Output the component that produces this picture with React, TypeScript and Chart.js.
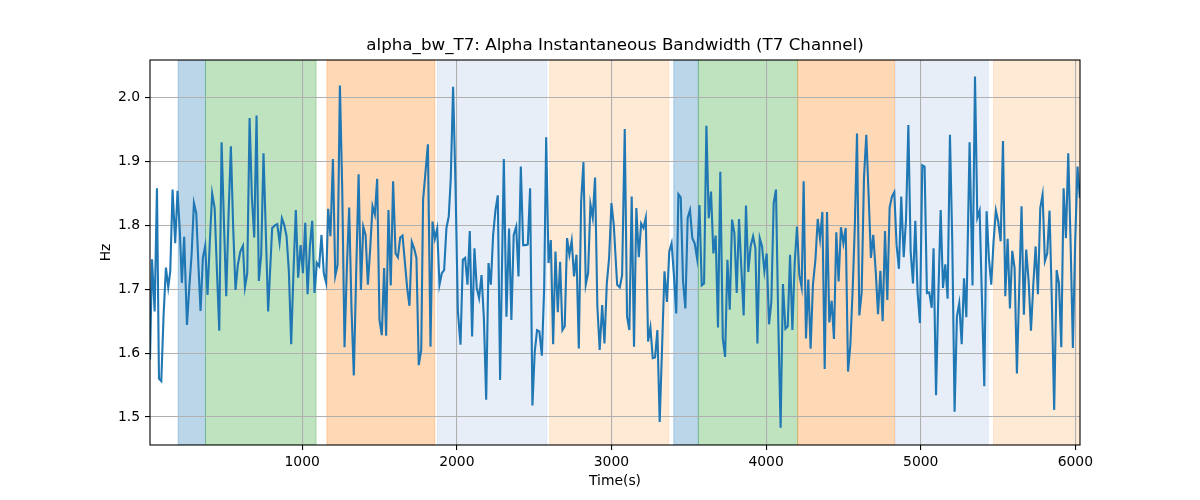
import { useEffect, useRef } from 'react';
import { Chart, registerables } from 'chart.js';

Chart.register(...registerables);

const titleText = 'alpha_bw_T7: Alpha Instantaneous Bandwidth (T7 Channel)';

const times = [
  16, 29, 46, 61, 74, 89, 104, 119, 134, 147, 162, 179, 194, 209, 222, 237, 255, 270, 285, 300,
  315, 330, 343, 358, 373, 388, 403, 418, 434, 449, 464, 479, 496, 509, 524, 539, 554, 569, 584, 600,
  617, 630, 645, 660, 675, 690, 705, 720, 735, 750, 780, 806, 824, 839, 854, 869, 884, 899, 914, 929,
  944, 959, 974, 990, 1005, 1020, 1035, 1050, 1065, 1080, 1095, 1110, 1125, 1140, 1155, 1168, 1183, 1199, 1214, 1229,
  1244, 1259, 1274, 1289, 1304, 1319, 1334, 1349, 1365, 1380, 1395, 1410, 1425, 1440, 1455, 1470, 1485, 1500, 1515, 1530,
  1543, 1558, 1573, 1588, 1604, 1619, 1634, 1649, 1664, 1679, 1694, 1709, 1724, 1739, 1754, 1770, 1782, 1797, 1813, 1830,
  1843, 1858, 1873, 1888, 1903, 1918, 1933, 1948, 1961, 1976, 1991, 2007, 2024, 2039, 2054, 2069, 2084, 2099, 2114, 2129,
  2144, 2160, 2175, 2190, 2205, 2220, 2235, 2250, 2265, 2280, 2304, 2321, 2338, 2353, 2368, 2384, 2399, 2414, 2429, 2444,
  2459, 2474, 2489, 2504, 2519, 2534, 2550, 2565, 2578, 2593, 2608, 2623, 2638, 2653, 2668, 2683, 2698, 2713, 2728, 2743,
  2758, 2774, 2789, 2804, 2819, 2834, 2849, 2864, 2879, 2894, 2909, 2924, 2940, 2955, 2970, 2985, 3000, 3015, 3037, 3054,
  3069, 3086, 3101, 3116, 3131, 3146, 3161, 3177, 3192, 3207, 3222, 3237, 3252, 3267, 3282, 3297, 3312, 3328, 3343, 3359,
  3374, 3389, 3404, 3419, 3433, 3448, 3463, 3478, 3493, 3508, 3523, 3538, 3554, 3569, 3584, 3599, 3614, 3629, 3644, 3659,
  3674, 3689, 3704, 3720, 3735, 3750, 3765, 3780, 3795, 3810, 3825, 3840, 3855, 3870, 3885, 3900, 3916, 3931, 3944, 3959,
  3974, 3989, 4004, 4019, 4034, 4049, 4064, 4079, 4094, 4109, 4125, 4140, 4155, 4170, 4185, 4200, 4215, 4230, 4243, 4258,
  4273, 4288, 4303, 4319, 4334, 4349, 4364, 4379, 4394, 4409, 4424, 4439, 4454, 4469, 4484, 4500, 4515, 4530, 4545, 4560,
  4574, 4588, 4603, 4618, 4633, 4648, 4663, 4678, 4693, 4709, 4724, 4739, 4754, 4769, 4784, 4799, 4814, 4829, 4844, 4859,
  4874, 4890, 4905, 4920, 4935, 4950, 4965, 4980, 4995, 5010, 5025, 5040, 5055, 5071, 5083, 5099, 5114, 5129, 5144, 5159,
  5174, 5189, 5204, 5219, 5234, 5249, 5265, 5280, 5295, 5316, 5335, 5351, 5366, 5381, 5396, 5411, 5426, 5441, 5456, 5471,
  5486, 5501, 5517, 5532, 5547, 5562, 5577, 5592, 5607, 5622, 5637, 5652, 5667, 5682, 5698, 5713, 5728, 5743, 5758, 5773,
  5788, 5803, 5818, 5833, 5848, 5863, 5879, 5894, 5909, 5924, 5939, 5954, 5969, 5984, 5999, 6014, 6029,
];

const bandwidth = [
  1.59, 1.747, 1.665, 1.858, 1.56, 1.556, 1.66, 1.734, 1.703, 1.728, 1.856, 1.772, 1.854, 1.79, 1.71, 1.782, 1.644, 1.702, 1.754, 1.835,
  1.819, 1.733, 1.666, 1.749, 1.768, 1.691, 1.775, 1.85, 1.827, 1.728, 1.635, 1.93, 1.79, 1.689, 1.816, 1.924, 1.796, 1.699, 1.738, 1.759,
  1.768, 1.703, 1.725, 1.968, 1.843, 1.781, 1.972, 1.713, 1.754, 1.913, 1.665, 1.796, 1.8, 1.802, 1.773, 1.811, 1.801, 1.783, 1.728, 1.614,
  1.728, 1.824, 1.718, 1.769, 1.725, 1.804, 1.692, 1.767, 1.807, 1.694, 1.741, 1.736, 1.785, 1.725, 1.71, 1.826, 1.783, 1.904, 1.721, 1.738,
  2.019, 1.858, 1.609, 1.733, 1.828, 1.67, 1.565, 1.722, 1.88, 1.699, 1.798, 1.785, 1.707, 1.764, 1.83, 1.817, 1.873, 1.652, 1.628, 1.733,
  1.627, 1.824, 1.706, 1.869, 1.756, 1.75, 1.781, 1.784, 1.743, 1.702, 1.674, 1.774, 1.764, 1.749, 1.581, 1.605, 1.84, 1.882, 1.927, 1.61,
  1.806, 1.779, 1.795, 1.707, 1.725, 1.73, 1.796, 1.814, 1.874, 2.017, 1.869, 1.665, 1.613, 1.746, 1.749, 1.707, 1.791, 1.626, 1.764, 1.702,
  1.686, 1.722, 1.655, 1.527, 1.741, 1.707, 1.785, 1.824, 1.847, 1.558, 1.904, 1.657, 1.795, 1.652, 1.785, 1.798, 1.72, 1.892, 1.769, 1.769,
  1.77, 1.858, 1.518, 1.602, 1.636, 1.634, 1.596, 1.702, 1.938, 1.741, 1.777, 1.614, 1.759, 1.664, 1.743, 1.636, 1.642, 1.78, 1.754, 1.776,
  1.72, 1.754, 1.607, 1.837, 1.899, 1.707, 1.725, 1.833, 1.812, 1.875, 1.673, 1.605, 1.675, 1.615, 1.709, 1.749, 1.835, 1.801, 1.707, 1.703,
  1.722, 1.951, 1.657, 1.636, 1.845, 1.61, 1.827, 1.75, 1.803, 1.796, 1.812, 1.618, 1.64, 1.592, 1.593, 1.636, 1.492, 1.613, 1.728, 1.68,
  1.759, 1.772, 1.722, 1.662, 1.849, 1.844, 1.712, 1.67, 1.812, 1.824, 1.78, 1.772, 1.748, 1.832, 1.706, 1.709, 1.956, 1.811, 1.853, 1.756,
  1.784, 1.64, 1.884, 1.623, 1.594, 1.746, 1.668, 1.809, 1.788, 1.694, 1.81, 1.733, 1.659, 1.831, 1.727, 1.767, 1.783, 1.764, 1.615, 1.78,
  1.767, 1.728, 1.756, 1.645, 1.68, 1.835, 1.856, 1.647, 1.483, 1.708, 1.638, 1.642, 1.754, 1.636, 1.741, 1.798, 1.722, 1.703, 1.869, 1.623,
  1.715, 1.607, 1.707, 1.746, 1.81, 1.779, 1.821, 1.575, 1.821, 1.648, 1.682, 1.622, 1.789, 1.712, 1.797, 1.772, 1.796, 1.571, 1.613, 1.7,
  1.8, 1.944, 1.659, 1.694, 1.874, 1.942, 1.848, 1.749, 1.785, 1.728, 1.661, 1.729, 1.65, 1.791, 1.683, 1.828, 1.845, 1.852, 1.769, 1.732,
  1.845, 1.75, 1.809, 1.957, 1.759, 1.709, 1.807, 1.694, 1.647, 1.894, 1.892, 1.694, 1.695, 1.671, 1.764, 1.534, 1.691, 1.824, 1.702, 1.739,
  1.685, 1.942, 1.775, 1.508, 1.657, 1.678, 1.614, 1.717, 1.656, 1.93, 1.706, 2.033, 1.812, 1.823, 1.683, 1.548, 1.822, 1.749, 1.707, 1.775,
  1.823, 1.806, 1.775, 1.932, 1.689, 1.779, 1.67, 1.76, 1.733, 1.568, 1.702, 1.83, 1.66, 1.762, 1.712, 1.635, 1.707, 1.767, 1.692, 1.827,
  1.848, 1.744, 1.756, 1.823, 1.681, 1.511, 1.73, 1.709, 1.609, 1.858, 1.78, 1.913, 1.775, 1.608, 1.775, 1.892, 1.843,
];

// shaded segments (start, end in seconds) and their fill colours
const bandStarts = [198, 375, 1160, 1875, 2601, 3403, 3562, 4204, 4836, 5471];
const bandEnds = [375, 1090, 1858, 2582, 3370, 3562, 4204, 4831, 5437, 6060];
const bandColors = [
  'rgba(31,119,180,0.3)',
  'rgba(44,160,44,0.3)',
  'rgba(255,127,14,0.3)',
  'rgba(174,199,232,0.3)',
  'rgba(255,187,120,0.3)',
  'rgba(31,119,180,0.3)',
  'rgba(44,160,44,0.3)',
  'rgba(255,127,14,0.3)',
  'rgba(174,199,232,0.3)',
  'rgba(255,187,120,0.3)',
];

const xTicks = [1000, 2000, 3000, 4000, 5000, 6000];
const yTicks = [1.5, 1.6, 1.7, 1.8, 1.9, 2.0];

const FONT = "'DejaVu Sans', sans-serif";

const bandPlugin = {
  id: 'bands',
  beforeDraw(chart: any) {
    const { ctx, chartArea, scales } = chart;
    const xs = scales.x;
    ctx.save();
    ctx.beginPath();
    ctx.rect(chartArea.left, chartArea.top, chartArea.right - chartArea.left, chartArea.bottom - chartArea.top);
    ctx.clip();
    bandStarts.forEach((start, i) => {
      const x0 = xs.getPixelForValue(start);
      const x1 = xs.getPixelForValue(bandEnds[i]);
      const h = chartArea.bottom - chartArea.top;
      ctx.fillStyle = bandColors[i];
      ctx.fillRect(x0, chartArea.top, x1 - x0, h);
      ctx.strokeStyle = bandColors[i];
      ctx.lineWidth = 1;
      ctx.strokeRect(x0, chartArea.top, x1 - x0, h);
    });
    ctx.restore();
  },
};

// axes frame on all four sides plus a title centred over the plot area
const framePlugin = {
  id: 'frame',
  afterDraw(chart: any) {
    const { ctx, chartArea } = chart;
    ctx.save();
    ctx.strokeStyle = '#000';
    ctx.lineWidth = 1.1;
    ctx.strokeRect(chartArea.left, chartArea.top, chartArea.right - chartArea.left, chartArea.bottom - chartArea.top);
    ctx.fillStyle = '#000';
    ctx.font = `16.7px ${FONT}`;
    ctx.textAlign = 'center';
    ctx.textBaseline = 'middle';
    ctx.fillText(titleText, (chartArea.left + chartArea.right) / 2, 46);
    ctx.restore();
  },
};

export default function App(): JSX.Element {
  const canvasRef = useRef<HTMLCanvasElement | null>(null);

  useEffect(() => {
    if (!canvasRef.current) return;
    const points = times.map((t, i) => ({ x: t, y: bandwidth[i] }));

    const chart = new Chart(canvasRef.current, {
      type: 'line',
      data: {
        datasets: [
          {
            data: points,
            borderColor: '#1f77b4',
            borderWidth: 2.1,
            pointRadius: 0,
            tension: 0,
            fill: false,
          },
        ],
      },
      options: {
        animation: false,
        responsive: true,
        maintainAspectRatio: false,
        layout: { padding: { left: 0, right: 120, top: 60, bottom: 0 } },
        plugins: {
          legend: { display: false },
          tooltip: { enabled: false },
          title: { display: false },
        },
        scales: {
          x: {
            type: 'linear',
            min: 16,
            max: 6030,
            afterBuildTicks: (scale: any) => {
              scale.ticks = xTicks.map((v) => ({ value: v }));
            },
            afterFit: (scale: any) => {
              scale.height = 55;
            },
            ticks: {
              color: '#000',
              font: { family: FONT, size: 13.9 },
              padding: 4,
              maxRotation: 0,
              callback: (v: any) => String(v),
            },
            grid: { color: '#b0b0b0', lineWidth: 1.1, tickLength: 5, tickColor: '#000', tickWidth: 1.1 },
            border: { display: false },
            title: {
              display: true,
              text: 'Time(s)',
              color: '#000',
              font: { family: FONT, size: 13.9 },
              padding: { top: 0, bottom: 10.7 },
            },
          },
          y: {
            type: 'linear',
            min: 1.456,
            max: 2.059,
            afterBuildTicks: (scale: any) => {
              scale.ticks = yTicks.map((v) => ({ value: v }));
            },
            afterFit: (scale: any) => {
              scale.width = 150;
            },
            ticks: {
              color: '#000',
              font: { family: FONT, size: 13.9 },
              padding: 5,
              callback: (v: any) => Number(v).toFixed(1),
            },
            grid: { color: '#b0b0b0', lineWidth: 1.1, tickLength: 5, tickColor: '#000', tickWidth: 1.1 },
            border: { display: false },
            title: {
              display: true,
              text: 'Hz',
              color: '#000',
              font: { family: FONT, size: 13.9 },
              padding: { top: 97.7, bottom: 0 },
            },
          },
        },
      },
      plugins: [bandPlugin, framePlugin],
    });

    return () => {
      chart.destroy();
    };
  }, []);

  return (
    <div style={{ position: 'absolute', left: 0, top: 0, width: 1200, height: 500, background: '#fff' }}>
      <canvas ref={canvasRef} />
    </div>
  );
}
